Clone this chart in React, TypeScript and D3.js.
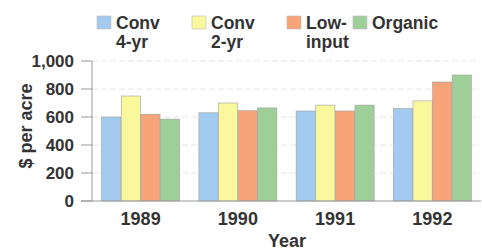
import React from 'react';
import * as d3 from 'd3';

const years = ['1989', '1990', '1991', '1992'];
const seriesNames = ['Conv 4-yr', 'Conv 2-yr', 'Low-input', 'Organic'];
const legendLines = [['Conv', '4-yr'], ['Conv', '2-yr'], ['Low-', 'input'], ['Organic']];
const conv4 = [600, 630, 643, 660];
const conv2 = [750, 700, 685, 715];
const lowInput = [620, 645, 643, 850];
const organic = [585, 665, 685, 900];
const yTicks = [0, 200, 400, 600, 800, 1000];

const colors = ['#a3cbef', '#f9f89c', '#f7a479', '#9fcf99'];
const legendX = [97, 192, 287, 353];

export default function App() {
    const width = 482, height = 250;
    const series = [conv4, conv2, lowInput, organic];

    const x = d3.scaleBand().domain(years).range([92, 481]).paddingInner(0.19).paddingOuter(0.095);
    const xInner = d3.scaleBand().domain(seriesNames).range([0, x.bandwidth()]).padding(0.02);
    const y = d3.scaleLinear().domain([0, 1000]).range([201, 61]);
    const fmt = d3.format(',');

    const font = '"Liberation Sans", Arial, sans-serif';
    const textColor = '#333';

    return (
        <svg width={width} height={height} style={{ position: 'absolute', left: 0, top: 0, background: '#fff' }}
            fontFamily={font} fontWeight="bold" fill={textColor}>
            {/* legend */}
            {seriesNames.map((name, i) => (
                <g key={name}>
                    <rect x={legendX[i]} y={16} width={14} height={13} fill={colors[i]} stroke="#bbb" strokeWidth={0.6} />
                    {legendLines[i].map((line, j) => (
                        <text key={j} x={legendX[i] + 19} y={29 + j * 18.5} fontSize={17.5}>{line}</text>
                    ))}
                </g>
            ))}

            {/* grid */}
            {yTicks.filter(t => t > 0).map(t => (
                <line key={t} x1={92} x2={480} y1={y(t)} y2={y(t)} stroke="#ddd" strokeWidth={0.8} strokeDasharray="6,3" />
            ))}

            {/* bars */}
            {years.map((yr, gi) => (
                <g key={yr} transform={`translate(${x(yr)},0)`}>
                    {series.map((s, si) => (
                        <rect key={si} x={xInner(seriesNames[si])} y={y(s[gi])} width={xInner.bandwidth()}
                            height={y(0) - y(s[gi])} fill={colors[si]} stroke="#a0a0a0" strokeWidth={0.6} />
                    ))}
                </g>
            ))}

            {/* axes */}
            <line x1={92} x2={92} y1={61} y2={201} stroke="#999" strokeWidth={1} />
            <line x1={81} x2={481} y1={201} y2={201} stroke="#999" strokeWidth={1} />
            {yTicks.map(t => (
                <g key={t}>
                    <line x1={81} x2={92} y1={y(t)} y2={y(t)} stroke="#999" strokeWidth={1} />
                    <text x={74} y={y(t)} dy="0.36em" textAnchor="end" fontSize={17}>{fmt(t)}</text>
                </g>
            ))}
            {years.map(yr => (
                <text key={yr} x={(x(yr) ?? 0) + x.bandwidth() / 2} y={225} textAnchor="middle" fontSize={18}>{yr}</text>
            ))}
            <text x={287} y={247} textAnchor="middle" fontSize={18}>Year</text>
            <text transform="translate(32,126) rotate(-90)" textAnchor="middle" fontSize={18} fontWeight="600">$ per acre</text>
        </svg>
    );
}
